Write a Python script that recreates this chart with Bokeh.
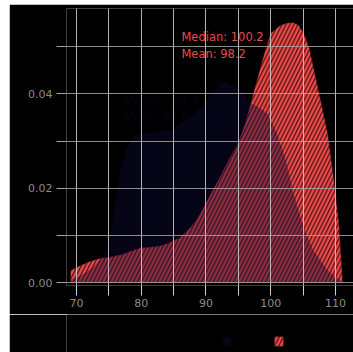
from bokeh.plotting import figure
from bokeh.models import ColumnDataSource, Range1d, Legend, LegendItem, FixedTicker, Spacer
from bokeh.layouts import column, row
from bokeh.core.properties import value
from bokeh.embed import file_html
from bokeh.resources import INLINE

# ---- data ----
navy_x = [69.0, 71.0, 72.5, 73.7, 74.5, 75.3, 76.0, 76.8, 77.7, 78.8, 80.3, 82.0, 84.0,
          85.5, 86.5, 88.0, 89.1, 90.3, 91.2, 92.5, 93.5, 94.9, 96.0, 96.9, 98.3, 99.5,
          101.0, 102.2, 103.0, 103.5, 105.1, 106.6, 108.8, 110.8]
navy_y = [0.0005, 0.0018, 0.0032, 0.0050, 0.0070, 0.0110, 0.0170, 0.0240, 0.0280, 0.0310,
          0.0317, 0.0318, 0.0322, 0.0330, 0.0340, 0.0355, 0.0370, 0.0390, 0.0405, 0.0425,
          0.0423, 0.0410, 0.0395, 0.0380, 0.0370, 0.0358, 0.0315, 0.0265, 0.0220, 0.0190,
          0.0117, 0.0068, 0.0026, 0.0005]

red_x = [69.1, 70.5, 72.0, 73.7, 75.3, 77.0, 78.5, 79.9, 81.4, 82.8, 84.0, 86.0, 87.6,
         88.6, 89.6, 90.8, 92.0, 93.5, 94.9, 96.0, 96.9, 98.4, 99.2, 100.0, 101.5, 102.5,
         103.5, 104.3, 105.1, 106.0, 106.6, 107.8, 108.8, 109.7, 110.5, 111.1]
red_y = [0.0026, 0.0036, 0.0045, 0.0052, 0.0055, 0.0060, 0.0068, 0.0074, 0.0076, 0.0078,
         0.0083, 0.0096, 0.0117, 0.0135, 0.0159, 0.0190, 0.0220, 0.0260, 0.0295, 0.0335,
         0.0380, 0.0456, 0.0495, 0.0528, 0.0545, 0.0550, 0.0551, 0.0545, 0.0528, 0.0495,
         0.0456, 0.0380, 0.0316, 0.0225, 0.0131, 0.0005]

x_ticks = [70, 80, 90, 100, 110]
x_minor = [75, 85, 95, 105]
y_ticks = [0.00, 0.02, 0.04]
y_minor = [0.01, 0.03, 0.05]

navy_stats = "Median: 91.4\nMean: 90.6"
red_stats = "Median: 100.2\nMean: 98.2"
series_names = ["A", "B"]

# ---- style ----
NAVY = "#0b0b36"
NAVY_ALPHA = 0.42
RED = "#ea4848"
FONT = "DejaVu Sans"
RED_STYLE = dict(fill_color=RED, fill_alpha=1.0, hatch_pattern="/", hatch_color="black",
                 hatch_alpha=0.6, hatch_scale=8, hatch_weight=1.4)
NAVY_STYLE = dict(fill_color=NAVY, fill_alpha=NAVY_ALPHA)

p = figure(width=344, height=310, output_backend="svg", toolbar_location=None,
           x_range=Range1d(68.456, 112.78), y_range=Range1d(-0.00057, 0.05805),
           min_border_left=57, min_border_right=0, min_border_top=4, min_border_bottom=29,
           background_fill_color="black", border_fill_color="black",
           outline_line_color=None)

red_src = ColumnDataSource(dict(x=red_x, y=red_y, z=[0] * len(red_x)))
navy_src = ColumnDataSource(dict(x=navy_x, y=navy_y, z=[0] * len(navy_x)))

p.varea(x="x", y1="z", y2="y", source=red_src, **RED_STYLE)
p.line(x="x", y="y", source=red_src, line_color="#300000", line_alpha=0.6, line_width=0.8)
p.varea(x="x", y1="z", y2="y", source=navy_src, **NAVY_STYLE)

p.text(x=[77.3], y=[0.0399], text=[navy_stats], text_font=value(FONT),
       text_font_size="11.5px", text_color=NAVY, text_alpha=NAVY_ALPHA,
       text_baseline="top", text_line_height=1.15)
p.text(x=[86.2], y=[0.0534], text=[red_stats], text_font=value(FONT),
       text_font_size="11.5px", text_color=RED, text_baseline="top",
       text_line_height=1.15)

# axes
p.xaxis.ticker = FixedTicker(ticks=x_ticks, minor_ticks=x_minor)
p.yaxis.ticker = FixedTicker(ticks=y_ticks, minor_ticks=y_minor)
p.yaxis.major_label_overrides = {t: f"{t:.2f}" for t in y_ticks}
p.xaxis.major_label_overrides = {t: f"{t}" for t in x_ticks}
for ax, col in ((p.xaxis, "#cfcfcf"), (p.yaxis, "#a5a5a5")):
    ax.axis_line_color = None
    ax.major_tick_line_color = col
    ax.minor_tick_line_color = col
    ax.major_tick_out = 10
    ax.major_tick_in = 0
    ax.minor_tick_out = 10
    ax.minor_tick_in = 0
    ax.major_label_text_color = "#8a8a8a"
    ax.major_label_text_font = FONT
    ax.major_label_text_font_size = "11px"
p.xaxis.major_label_standoff = 3
p.yaxis.major_label_standoff = 4

p.xgrid.grid_line_color = "#cfcfcf"
p.xgrid.minor_grid_line_color = "#cfcfcf"
p.ygrid.grid_line_color = "#a5a5a5"
p.ygrid.minor_grid_line_color = "#a5a5a5"
for g in (p.xgrid, p.ygrid):
    g.grid_line_alpha = 0.85
    g.minor_grid_line_alpha = 0.85
    g.level = "annotation"

# legend strip below the chart
lf = figure(width=344, height=38, output_backend="svg", toolbar_location=None,
            x_axis_location=None, y_axis_location=None,
            x_range=Range1d(0, 1), y_range=Range1d(0, 1),
            min_border_left=0, min_border_right=0, min_border_top=0, min_border_bottom=0,
            background_fill_color="black", border_fill_color="black",
            outline_line_color=None)
lf.axis.visible = False
lf.xgrid.grid_line_color = None
lf.ygrid.grid_line_color = None
lf.grid.visible = False
# zero-height swatch sources: nothing is drawn in the strip itself
ln = lf.varea(x=[-2, -1], y1=[-2, -2], y2=[-2, -2], **NAVY_STYLE)
lr = lf.varea(x=[-2, -1], y1=[-2, -2], y2=[-2, -2], **RED_STYLE)
legend = Legend(items=[LegendItem(label=series_names[0], renderers=[ln]),
                       LegendItem(label=series_names[1], renderers=[lr])],
                location=(155, 5), orientation="horizontal",
                padding=0, margin=0, spacing=16, glyph_width=11, glyph_height=12,
                label_width=20, label_standoff=5, label_text_color="black",
                label_text_font=FONT, label_text_font_size="11px",
                background_fill_color="black", background_fill_alpha=0,
                border_line_color=None)
lf.add_layout(legend, "center")

layout = column(Spacer(width=353, height=4),
                row(Spacer(width=9, height=348), column(p, lf, spacing=0), spacing=0),
                spacing=0)

open("out.html", "w").write(file_html(layout, INLINE))
